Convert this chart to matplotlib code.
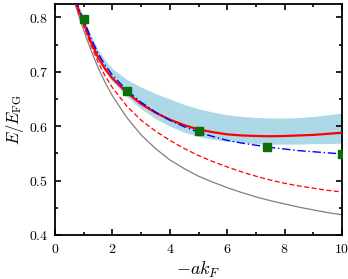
import matplotlib
matplotlib.use("Agg")
import matplotlib.pyplot as plt

# ---- data ----
x = [0.7, 0.85, 1.0, 1.25, 1.5, 1.75, 2.0, 2.5, 3.0, 3.5, 4.0, 4.5,
     5.0, 5.5, 6.0, 6.5, 7.0, 7.5, 8.0, 8.5, 9.0, 9.5, 10.0]

gray_line = [0.825, 0.800, 0.777, 0.740, 0.708, 0.680, 0.656, 0.616, 0.584, 0.559, 0.538, 0.522,
             0.508, 0.497, 0.487, 0.478, 0.470, 0.463, 0.457, 0.451, 0.446, 0.441, 0.437]
red_dashed = [0.828, 0.805, 0.785, 0.749, 0.718, 0.692, 0.671, 0.637, 0.611, 0.591, 0.574, 0.559,
              0.546, 0.535, 0.525, 0.516, 0.508, 0.501, 0.495, 0.490, 0.486, 0.482, 0.479]
red_solid = [0.832, 0.810, 0.790, 0.755, 0.727, 0.705, 0.688, 0.662, 0.641, 0.625, 0.612, 0.602,
             0.594, 0.589, 0.585, 0.583, 0.582, 0.5815, 0.582, 0.583, 0.584, 0.586, 0.588]
blue_dashdot = [0.836, 0.814, 0.795, 0.762, 0.734, 0.712, 0.694, 0.666, 0.644, 0.626, 0.611, 0.599,
                0.589, 0.581, 0.574, 0.569, 0.565, 0.561, 0.558, 0.555, 0.553, 0.551, 0.549]
band_upper = [0.840, 0.819, 0.800, 0.768, 0.741, 0.721, 0.706, 0.686, 0.672, 0.660, 0.650, 0.640,
              0.632, 0.626, 0.621, 0.618, 0.616, 0.615, 0.615, 0.616, 0.618, 0.621, 0.624]
band_lower = [0.830, 0.807, 0.787, 0.751, 0.722, 0.700, 0.682, 0.655, 0.632, 0.614, 0.600, 0.589,
              0.581, 0.576, 0.572, 0.570, 0.568, 0.567, 0.567, 0.567, 0.568, 0.568, 0.569]

qmc_x = [1.0, 2.5, 5.0, 7.4, 10.0]
qmc_y = [0.797, 0.665, 0.592, 0.562, 0.548]

xticks = [0, 2, 4, 6, 8, 10]
yticks = [0.4, 0.5, 0.6, 0.7, 0.8]

plt.rcParams["mathtext.fontset"] = "cm"
plt.rcParams["font.family"] = "serif"
plt.rcParams["font.serif"] = ["DejaVu Serif"]

fig = plt.figure(figsize=(3.48, 2.79), dpi=100)
ax = fig.add_axes([0.158, 0.158, 0.825, 0.828])

# ---- plot ----
ax.fill_between(x, band_lower, band_upper, color="#add8e6", lw=0, zorder=1)
ax.plot(x, gray_line, color="#808080", lw=0.9, zorder=2)
ax.plot(x, red_dashed, color="#ff0000", lw=0.9, ls=(0, (4, 2)), zorder=3)
ax.plot(x, red_solid, color="#ff0000", lw=1.6, zorder=4)
ax.plot(x, blue_dashdot, color="#0000ff", lw=1.0, ls=(0, (6, 2, 1, 2)), zorder=5)
ax.plot(qmc_x, qmc_y, ls="none", marker="s", ms=6, color="#0b6e0b", zorder=6)

ax.set_xlim(0, 10)
ax.set_ylim(0.4, 0.825)
ax.set_xticks(xticks)
ax.set_xticklabels([f"${t}$" for t in xticks])
ax.set_yticks(yticks)
ax.set_yticklabels([f"${t:.1f}$" for t in yticks])
ax.set_xticks([1, 3, 5, 7, 9], minor=True)
ax.set_yticks([0.45, 0.55, 0.65, 0.75], minor=True)
ax.tick_params(which="both", direction="in", top=True, right=True, labelsize=10, width=1.2)
ax.tick_params(which="major", length=4.5, pad=5)
ax.tick_params(which="minor", length=2.5)
for s in ax.spines.values():
    s.set_linewidth(1.3)

ax.set_xlabel(r"$-ak_F$", fontsize=13, labelpad=3)
ax.set_ylabel(r"$E/E_{\rm FG}$", fontsize=12, labelpad=2)

fig.savefig("out.png", dpi=100)
